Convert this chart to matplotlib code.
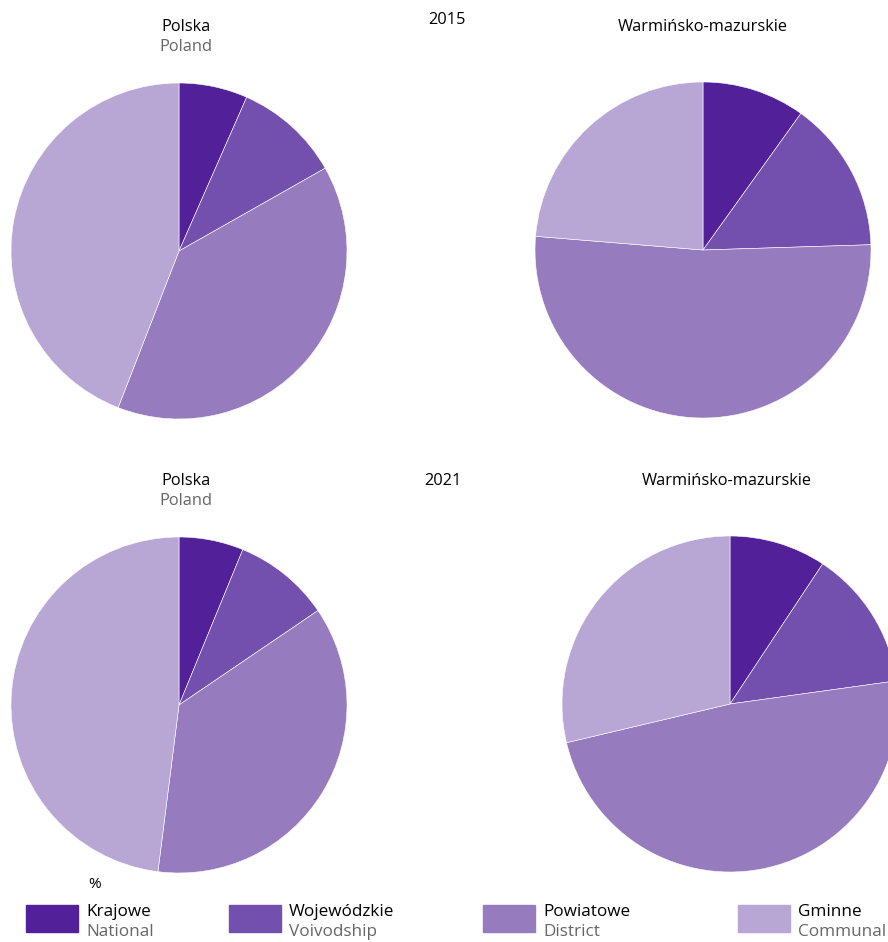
import matplotlib.pyplot as plt
from matplotlib.patches import Rectangle

plt.rcParams['font.family'] = ['Open Sans', 'DejaVu Sans']

categories_pl = ['Krajowe', 'Wojewódzkie', 'Powiatowe', 'Gminne']
categories_en = ['National', 'Voivodship', 'District', 'Communal']
colors = ['#52219a', '#7450ae', '#967bbf', '#b8a7d5']

# shares in %
poland_2015 = [6.6, 10.2, 39.1, 44.1]
warm_2015 = [9.9, 14.6, 51.8, 23.7]
poland_2021 = [6.2, 9.3, 36.5, 48.0]
warm_2021 = [9.3, 13.5, 48.5, 28.7]

W, H = 888, 942
fig = plt.figure(figsize=(W / 100, H / 100), dpi=100)

R = 168


def pie_at(values, cx, cy):
    ax = fig.add_axes([(cx - R) / W, 1 - (cy + R) / H, 2 * R / W, 2 * R / H])
    ax.pie(values, colors=colors, startangle=90, counterclock=False, radius=1,
           wedgeprops=dict(edgecolor='white', linewidth=0.4))
    ax.set_xlim(-1, 1)
    ax.set_ylim(-1, 1)
    ax.set_aspect('equal')
    ax.axis('off')
    return ax


pie_at(poland_2015, 179, 251)
pie_at(warm_2015, 703, 250)
pie_at(poland_2021, 179, 705)
pie_at(warm_2021, 730, 704)


def txt(x, y, s, color='black', size=11.8, ha='center'):
    fig.text(x / W, 1 - y / H, s, color=color, fontsize=size, ha=ha, va='center')


txt(186, 27, 'Polska')
txt(186, 47, 'Poland', color='#666666')
txt(447, 20, '2015')
txt(703, 27, 'Warmińsko-mazurskie')
txt(186, 481, 'Polska')
txt(186, 501, 'Poland', color='#666666')
txt(443, 481, '2021')
txt(727, 481, 'Warmińsko-mazurskie')

# legend
txt(95, 884, '%', size=11)
swatch_x = [26, 229, 483, 738]
for x0, c, pl, en in zip(swatch_x, colors, categories_pl, categories_en):
    fig.patches.append(Rectangle((x0 / W, 1 - 932 / H), 52 / W, 27 / H,
                                 transform=fig.transFigure, color=c))
    txt(x0 + 60, 912, pl, ha='left', size=12.3)
    txt(x0 + 60, 932, en, color='#666666', ha='left', size=12.3)

fig.savefig('out.png', dpi=100)
